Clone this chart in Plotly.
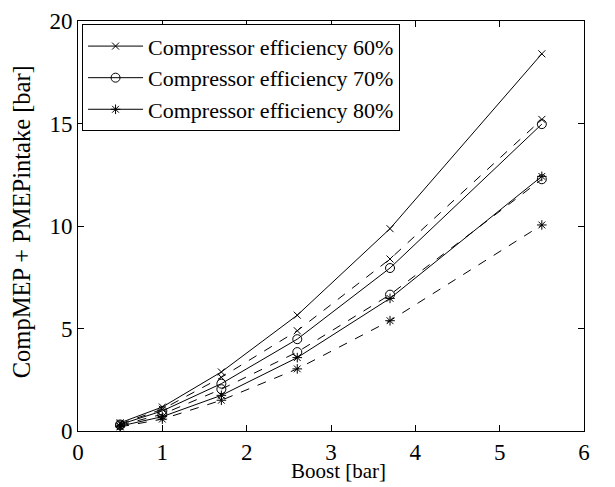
import plotly.graph_objects as go

boost = [0.5, 1.0, 1.7, 2.6, 3.7, 5.5]

eff60_solid = [0.40, 1.17, 2.88, 5.65, 9.87, 18.40]
eff60_dash = [0.35, 1.06, 2.62, 4.89, 8.39, 15.20]
eff70_solid = [0.32, 0.98, 2.31, 4.48, 7.95, 14.97]
eff70_dash = [0.28, 0.82, 2.04, 3.85, 6.65, 12.28]
eff80_solid = [0.24, 0.70, 1.74, 3.58, 6.47, 12.42]
eff80_dash = [0.20, 0.58, 1.50, 3.03, 5.38, 10.05]

labels = ["Compressor efficiency 60%", "Compressor efficiency 70%", "Compressor efficiency 80%"]
symbols = ["x-thin-open", "circle-open", "asterisk-open"]
sizes = [7, 9, 8]

fig = go.Figure()
solids = [eff60_solid, eff70_solid, eff80_solid]
dashes = [eff60_dash, eff70_dash, eff80_dash]
for lab, sym, sz, ys in zip(labels, symbols, sizes, solids):
    fig.add_trace(go.Scatter(x=boost, y=ys, mode="lines+markers", name=lab,
                             line=dict(color="black", width=1),
                             marker=dict(symbol=sym, size=sz, color="black",
                                         line=dict(color="black", width=1))))
for lab, sym, sz, ys in zip(labels, symbols, sizes, dashes):
    fig.add_trace(go.Scatter(x=boost, y=ys, mode="lines+markers", name=lab,
                             showlegend=False,
                             line=dict(color="black", width=1, dash="dash"),
                             marker=dict(symbol=sym, size=sz, color="black",
                                         line=dict(color="black", width=1))))

font = "Liberation Serif, Times New Roman, serif"
axis_common = dict(showgrid=False, zeroline=False, showline=True, linecolor="black",
                   linewidth=1, mirror="ticks", ticks="inside", ticklen=6,
                   tickcolor="black", automargin=False,
                   tickfont=dict(family=font, size=23, color="black"))
fig.update_layout(
    width=615, height=487,
    margin=dict(l=78, r=31, t=21, b=56),
    paper_bgcolor="white", plot_bgcolor="white",
    font=dict(family=font, color="black"),
    xaxis=dict(range=[0, 6], dtick=1, **axis_common),
    yaxis=dict(range=[0, 20], dtick=5, **axis_common),
    legend=dict(x=0.008, y=0.992, xanchor="left", yanchor="top",
                bgcolor="white", bordercolor="black", borderwidth=1,
                font=dict(family=font, size=22, color="black"),
                tracegroupgap=0, itemwidth=55),
    annotations=[
        dict(text="Boost [bar]", xref="paper", yref="paper", x=0.515, y=-0.098,
             xanchor="center", yanchor="middle", showarrow=False,
             font=dict(family=font, size=21, color="black")),
        dict(text="CompMEP + PMEPintake [bar]", xref="paper", yref="paper",
             x=-0.11, y=0.51, xanchor="center", yanchor="middle", textangle=-90,
             showarrow=False, font=dict(family=font, size=24.5, color="black")),
    ],
)

fig.write_html("out.html", config={"displayModeBar": False},
               post_script="document.body.style.margin='0';document.body.style.padding='0';")
